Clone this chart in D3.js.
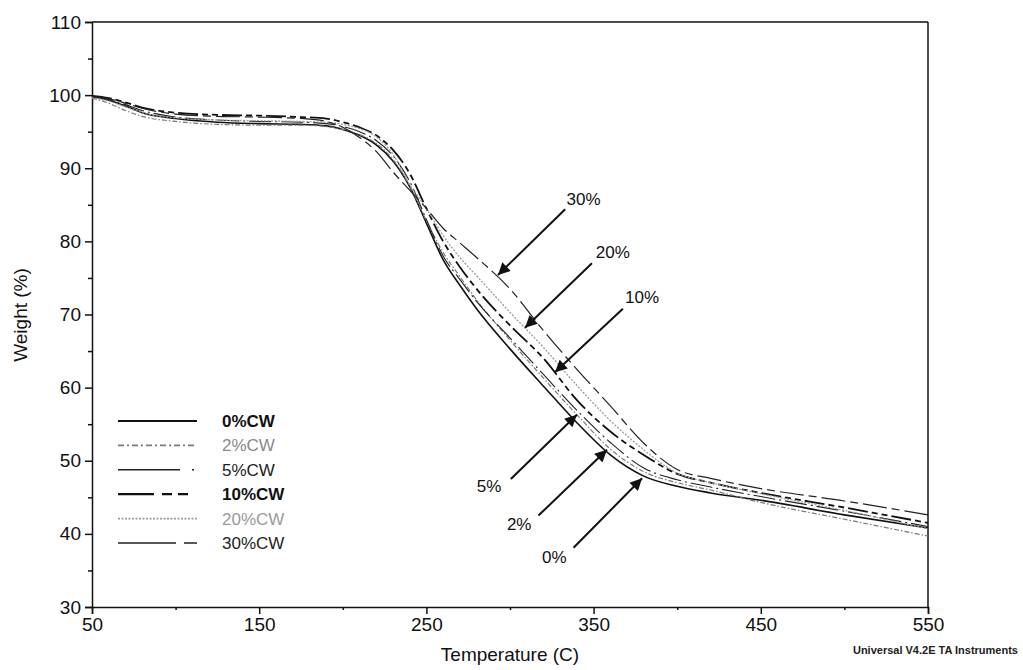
<!DOCTYPE html>
<html>
<head>
<meta charset="utf-8">
<script src="https://cdn.jsdelivr.net/npm/d3@7"></script>
<style>
  body { margin: 0; background: #fff; }
  svg { font-family: Arial, "Liberation Sans", sans-serif; }
</style>
</head>
<body>
<svg width="1023" height="670"></svg>
<script>
// temperatures (C) shared by all runs
const temps = [50, 60, 70, 80, 100, 125, 150, 175, 190, 200, 210, 220, 230, 240, 250, 260, 270, 280, 300, 320, 340, 360, 380, 400, 420, 450, 500, 550];

// weight (%)
const w0 = [99.8, 99.3, 98.5, 97.6, 96.8, 96.3, 96.1, 96.0, 95.8, 95.3, 94.5, 93.2, 91.0, 87.5, 82.5, 77.5, 74.0, 70.8, 65.3, 60.2, 55.2, 50.8, 47.9, 46.5, 45.6, 44.6, 42.6, 40.8];
const w2 = [99.6, 98.9, 97.9, 97.1, 96.4, 96.0, 95.9, 95.9, 95.7, 95.3, 94.6, 93.4, 91.2, 87.6, 82.8, 78.5, 75.2, 72.0, 66.5, 61.3, 56.3, 51.6, 48.5, 47.0, 46.0, 44.3, 42.0, 39.7];
const w5 = [99.8, 99.4, 98.7, 97.9, 97.0, 96.6, 96.4, 96.3, 96.1, 95.7, 95.0, 93.8, 91.7, 88.2, 83.0, 78.0, 74.8, 71.8, 66.8, 61.8, 56.9, 52.5, 49.0, 47.4, 46.4, 45.1, 43.1, 41.0];
const w10 = [99.9, 99.6, 99.0, 98.3, 97.6, 97.3, 97.2, 97.0, 96.8, 96.3, 95.6, 94.5, 92.5, 89.3, 84.5, 80.0, 76.5, 73.5, 68.5, 64.0, 58.3, 54.0, 50.8, 48.2, 47.0, 45.6, 43.6, 41.5];
const w20 = [99.7, 99.2, 98.4, 97.6, 96.9, 96.6, 96.5, 96.4, 96.3, 96.0, 95.4, 94.3, 91.9, 87.8, 84.5, 80.8, 77.8, 75.3, 70.3, 65.5, 60.3, 55.5, 51.5, 48.3, 47.0, 45.5, 43.2, 40.7];
const w30 = [99.8, 99.5, 98.9, 98.2, 97.4, 97.1, 97.0, 96.8, 96.4, 95.6, 94.2, 92.3, 89.5, 87.0, 84.5, 81.8, 79.8, 77.8, 73.5, 67.8, 62.5, 57.5, 52.4, 48.8, 47.6, 46.2, 44.5, 42.6];

const seriesNames = ["0%CW", "2%CW", "5%CW", "10%CW", "20%CW", "30%CW"];

const xTicks = [50, 150, 250, 350, 450, 550];
const yTicks = [30, 40, 50, 60, 70, 80, 90, 100, 110];

// arrow annotations: label, label pos, tail and tip (data units)
const arrowLabels = ["30%", "20%", "10%", "5%", "2%", "0%"];
const labelAt = [[344, 85], [361.5, 77.7], [379, 71.6], [287.5, 45.7], [305.5, 40.5], [326.5, 36]];
const tails = [[333, 84.4], [349, 77.0], [367.5, 70.8], [300.5, 47.5], [317, 42.5], [338, 38.1]];
const tips = [[292.8, 75.4], [309, 68.2], [326.9, 62.1], [340, 56.3], [358, 51.5], [379, 47.6]];

const styles = [
  { stroke: "#111", width: 1.6, dash: null, key: null, text: "#111", weight: "bold" },
  { stroke: "#7a7a7a", width: 1.2, dash: "5,2,1.5,2", key: "6,3,2,3", text: "#8a8a8a", weight: "normal" },
  { stroke: "#222", width: 1.1, dash: "22,4,2,4", key: "62,12,2,20", text: "#222", weight: "normal" },
  { stroke: "#111", width: 1.8, dash: "20,4,6,4,6,4", key: "36,8,10,6,10,20", text: "#111", weight: "bold" },
  { stroke: "#9a9a9a", width: 1.3, dash: "2,1.5", key: "2,1.5", text: "#9a9a9a", weight: "normal" },
  { stroke: "#222", width: 1.2, dash: "24,5,8,5", key: "58,8,14,20", text: "#222", weight: "normal" }
];

const svg = d3.select("svg");

const x = d3.scaleLinear().domain([50, 550]).range([92, 928]);
const y = d3.scaleLinear().domain([30, 110]).range([607, 22]);

// frame
svg.append("line")
  .attr("x1", x(50)).attr("x2", x(550))
  .attr("y1", y(110)).attr("y2", y(110))
  .attr("stroke", "#111").attr("stroke-width", 1.5);
svg.append("line")
  .attr("x1", x(550)).attr("x2", x(550))
  .attr("y1", y(110)).attr("y2", y(30))
  .attr("stroke", "#111").attr("stroke-width", 1.5);

// x axis
svg.append("g")
  .attr("transform", `translate(0,${y(30)})`)
  .call(d3.axisBottom(x).tickValues(xTicks).tickSize(7).tickPadding(4).tickFormat(d3.format("d")));
svg.append("g")
  .attr("transform", `translate(0,${y(30)})`)
  .call(d3.axisBottom(x).tickValues(d3.range(100, 550, 100)).tickSize(3).tickFormat(""))
  .select(".domain").remove();

// y axis
svg.append("g")
  .attr("transform", `translate(${x(50)},0)`)
  .call(d3.axisLeft(y).tickValues(yTicks).tickSize(7).tickPadding(4).tickFormat(d3.format("d")));
svg.append("g")
  .attr("transform", `translate(${x(50)},0)`)
  .call(d3.axisLeft(y).tickValues(d3.range(35, 110, 10)).tickSize(4).tickFormat(""))
  .select(".domain").remove();

svg.selectAll(".domain").attr("stroke", "#111").attr("stroke-width", 1.5);
svg.selectAll(".tick line").attr("stroke", "#111").attr("stroke-width", 1.5);
svg.selectAll(".tick text")
  .attr("font-size", 19)
  .attr("font-family", "Arial, 'Liberation Sans', sans-serif")
  .attr("fill", "#111");

// axis titles
svg.append("text")
  .attr("x", 510).attr("y", 661)
  .attr("text-anchor", "middle")
  .attr("font-size", 19)
  .attr("fill", "#111")
  .text("Temperature (C)");
svg.append("text")
  .attr("transform", "translate(27,315) rotate(-90)")
  .attr("text-anchor", "middle")
  .attr("font-size", 19)
  .attr("fill", "#111")
  .text("Weight (%)");
svg.append("text")
  .attr("x", 1018).attr("y", 654)
  .attr("text-anchor", "end")
  .attr("font-size", 11)
  .attr("font-weight", "bold")
  .attr("fill", "#222")
  .text("Universal V4.2E TA Instruments");

// curves
const series = [w0, w2, w5, w10, w20, w30];
const line = d3.line()
  .x((d) => x(d[0]))
  .y((d) => y(d[1]))
  .curve(d3.curveMonotoneX);

svg.append("g")
  .selectAll("path")
  .data(series)
  .enter()
  .append("path")
  .attr("d", (s) => line(temps.map((t, i) => [t, s[i]])))
  .attr("fill", "none")
  .attr("stroke", (s, i) => styles[i].stroke)
  .attr("stroke-width", (s, i) => styles[i].width)
  .attr("stroke-dasharray", (s, i) => styles[i].dash);

// legend
const legend = svg.append("g").attr("transform", "translate(0,421)");
const rows = legend.selectAll("g")
  .data(seriesNames)
  .enter()
  .append("g")
  .attr("transform", (d, i) => `translate(0,${i * 24.4})`);
rows.append("line")
  .attr("x1", 118).attr("x2", 197)
  .attr("y1", 0).attr("y2", 0)
  .attr("stroke", (d, i) => styles[i].stroke)
  .attr("stroke-width", (d, i) => styles[i].width + 0.4)
  .attr("stroke-dasharray", (d, i) => styles[i].key);
rows.append("text")
  .attr("x", 222).attr("y", 6)
  .attr("font-size", 17)
  .attr("font-weight", (d, i) => styles[i].weight)
  .attr("fill", (d, i) => styles[i].text)
  .text((d) => d);

// arrows
const defs = svg.append("defs");
defs.append("marker")
  .attr("id", "head")
  .attr("viewBox", "0 0 10 10")
  .attr("refX", 10).attr("refY", 5)
  .attr("markerWidth", 15).attr("markerHeight", 12)
  .attr("markerUnits", "userSpaceOnUse")
  .attr("orient", "auto")
  .append("path")
  .attr("d", "M0,0 L10,5 L0,10 Z")
  .attr("fill", "#111");

const notes = svg.append("g");
notes.selectAll("line")
  .data(arrowLabels)
  .enter()
  .append("line")
  .attr("x1", (d, i) => x(tails[i][0]))
  .attr("y1", (d, i) => y(tails[i][1]))
  .attr("x2", (d, i) => x(tips[i][0]))
  .attr("y2", (d, i) => y(tips[i][1]))
  .attr("stroke", "#111")
  .attr("stroke-width", 2)
  .attr("marker-end", "url(#head)");
notes.selectAll("text")
  .data(arrowLabels)
  .enter()
  .append("text")
  .attr("x", (d, i) => x(labelAt[i][0]))
  .attr("y", (d, i) => y(labelAt[i][1]))
  .attr("text-anchor", "middle")
  .attr("font-size", 17)
  .attr("fill", "#111")
  .text((d) => d);
</script>
</body>
</html>
